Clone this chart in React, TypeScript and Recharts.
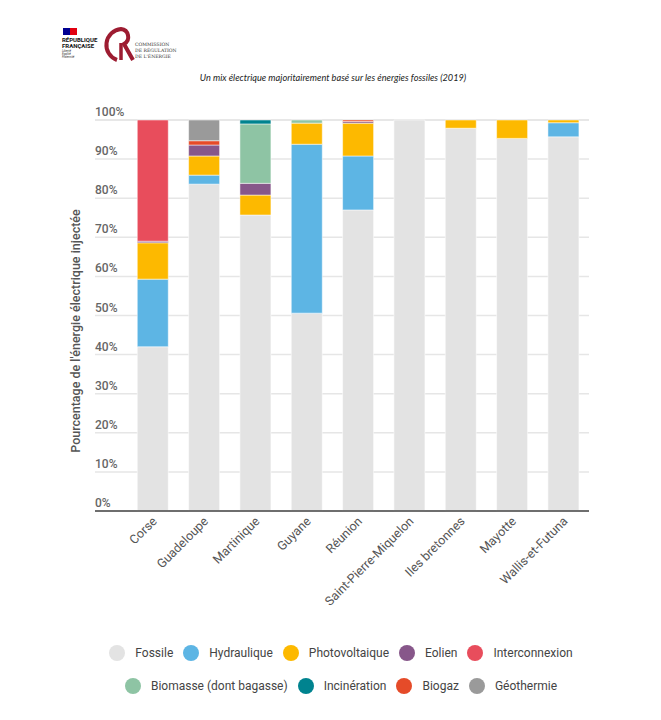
import React from "react";
import { Bar, BarChart, CartesianGrid, XAxis, YAxis } from "recharts";

const regions = [
  "Corse",
  "Guadeloupe",
  "Martinique",
  "Guyane",
  "Réunion",
  "Saint-Pierre-Miquelon",
  "Iles bretonnes",
  "Mayotte",
  "Wallis-et-Futuna",
];

// parts in % of injected energy, one value per region
const fossile = [42, 83.6, 75.7, 50.6, 77.0, 100, 97.9, 95.3, 95.7];
const hydraulique = [17.3, 2.3, 0, 43.2, 13.8, 0, 0, 0, 3.6];
const photovoltaique = [9.3, 4.9, 5.1, 5.4, 8.4, 0, 2.1, 4.7, 0.7];
const eolien = [0.4, 2.8, 3.0, 0, 0.4, 0, 0, 0, 0];
const interconnexion = [31, 0, 0, 0, 0, 0, 0, 0, 0];
const biomasse = [0, 0, 15.2, 0.8, 0, 0, 0, 0, 0];
const incineration = [0, 0, 1.0, 0, 0, 0, 0, 0, 0];
const biogaz = [0, 1.1, 0, 0, 0.4, 0, 0, 0, 0];
const geothermie = [0, 5.3, 0, 0, 0, 0, 0, 0, 0];

const yTicks = [0, 10, 20, 30, 40, 50, 60, 70, 80, 90, 100];

const series = [
  { key: "fossile", name: "Fossile", color: "#e3e3e3", values: fossile },
  { key: "hydraulique", name: "Hydraulique", color: "#5db5e4", values: hydraulique },
  { key: "photovoltaique", name: "Photovoltaique", color: "#fdb900", values: photovoltaique },
  { key: "eolien", name: "Eolien", color: "#87578a", values: eolien },
  { key: "interconnexion", name: "Interconnexion", color: "#e84d5c", values: interconnexion },
  { key: "biomasse", name: "Biomasse (dont bagasse)", color: "#8ec4a4", values: biomasse },
  { key: "incineration", name: "Incinération", color: "#00838f", values: incineration },
  { key: "biogaz", name: "Biogaz", color: "#e54b29", values: biogaz },
  { key: "geothermie", name: "Géothermie", color: "#9a9a9a", values: geothermie },
];

const data = regions.map((region, i) => {
  const row: Record<string, string | number> = { region };
  series.forEach((s) => (row[s.key] = s.values[i]));
  return row;
});

const FONT = "Roboto, 'Noto Sans', sans-serif";

// y labels sit just above their grid line, left-aligned on the plot edge
function YTick({ x, y, payload }: any) {
  return (
    <text x={x} y={y - 4} textAnchor="start" fontSize={12} fontWeight={500} fontFamily={FONT} fill="#666">
      {payload.value}%
    </text>
  );
}

function XTick({ x, y, payload }: any) {
  const ax = x + 5;
  const ay = y + 7;
  return (
    <text
      x={ax}
      y={ay}
      transform={`rotate(-45 ${ax} ${ay})`}
      textAnchor="end"
      fontSize={12.5}
      fontFamily={FONT}
      fill="#555"
    >
      {payload.value}
    </text>
  );
}

function Logos() {
  return (
    <svg width={200} height={70} style={{ position: "absolute", left: 0, top: 0 }}>
      <rect x={63} y={28} width={7} height={7} fill="#000091" />
      <rect x={70} y={28} width={7} height={7} fill="#e1000f" />
      <text x={62} y={42} fontSize={6} fontWeight={700} fontFamily={FONT} fill="#111">RÉPUBLIQUE</text>
      <text x={62} y={48} fontSize={6} fontWeight={700} fontFamily={FONT} fill="#111">FRANÇAISE</text>
      <text x={62} y={52} fontSize={3} fontStyle="italic" fontFamily={FONT} fill="#333">Liberté</text>
      <text x={62} y={55} fontSize={3} fontStyle="italic" fontFamily={FONT} fill="#333">Égalité</text>
      <text x={62} y={58} fontSize={3} fontStyle="italic" fontFamily={FONT} fill="#333">Fraternité</text>
      <path d="M117 60 A16 16 0 0 1 121 29 A8 8 0 0 1 124 44 L133 60" fill="none" stroke="#9d1c31" strokeWidth={4} />
      <path d="M121 43 L121 60" fill="none" stroke="#9d1c31" strokeWidth={3.5} />
      <text x={135} y={46} fontSize={4.6} fontFamily="'DejaVu Serif', serif" fill="#333">COMMISSION</text>
      <text x={135} y={52} fontSize={4.6} fontFamily="'DejaVu Serif', serif" fill="#333">DE RÉGULATION</text>
      <text x={135} y={58} fontSize={4.6} fontFamily="'DejaVu Serif', serif" fill="#333">DE L'ÉNERGIE</text>
    </svg>
  );
}

export default function App() {
  const rows = [series.slice(0, 5), series.slice(5)];
  return (
    <div style={{ position: "absolute", left: 0, top: 0, width: 661, height: 720, background: "#fff", fontFamily: FONT }}>
      <Logos />
      <div
        style={{
          position: "absolute",
          top: 72,
          left: 0,
          width: 666,
          textAlign: "center",
          fontFamily: "Lato, sans-serif",
          fontStyle: "italic",
          fontSize: 9.2,
          color: "#222",
        }}
      >
        Un mix électrique majoritairement basé sur les énergies fossiles (2019)
      </div>
      <div style={{ position: "absolute", top: 0, left: 0 }}>
        <BarChart
          width={661}
          height={720}
          data={data}
          margin={{ top: 120, right: 72, bottom: 109, left: 94 }}
          barCategoryGap="20%"
        >
          <CartesianGrid vertical={false} stroke="#e6e6e6" strokeWidth={1.5} />
          <XAxis
            dataKey="region"
            height={100}
            padding={{ left: 32, right: 0 }}
            tick={<XTick />}
            tickLine={false}
            tickSize={0}
            tickMargin={4}
            interval={0}
            axisLine={{ stroke: "#444", strokeWidth: 1.5 }}
          />
          <YAxis
            width={1}
            domain={[0, 100]}
            ticks={yTicks}
            interval={0}
            tick={<YTick />}
            tickLine={false}
            tickSize={0}
            tickMargin={0}
            axisLine={false}
          />
          {series.map((s) => (
            <Bar
              key={s.key}
              dataKey={s.key}
              name={s.name}
              stackId="mix"
              fill={s.color}
              stroke="#ffffff"
              strokeOpacity={0.5}
              strokeWidth={1}
              isAnimationActive={false}
            />
          ))}
        </BarChart>
      </div>
      <div
        style={{
          position: "absolute",
          left: 75,
          top: 331,
          transform: "translate(-50%, -50%) rotate(-90deg)",
          whiteSpace: "nowrap",
          fontSize: 12.5,
          fontWeight: 500,
          color: "#555",
        }}
      >
        Pourcentage de l'énergie électrique injectée
      </div>
      <div style={{ position: "absolute", top: 637, left: 0, width: 692 }}>
        {rows.map((row, r) => (
          <div
            key={r}
            style={{ display: "flex", justifyContent: "center", alignItems: "center", height: 32.5 }}
          >
            {row.map((s) => (
              <div key={s.key} style={{ display: "flex", alignItems: "center", marginRight: 10 }}>
                <span
                  style={{
                    width: 16,
                    height: 16,
                    borderRadius: 8,
                    background: s.color,
                    marginRight: 10,
                    display: "inline-block",
                  }}
                />
                <span style={{ fontSize: 12, color: "#444" }}>{s.name}</span>
              </div>
            ))}
          </div>
        ))}
      </div>
    </div>
  );
}
